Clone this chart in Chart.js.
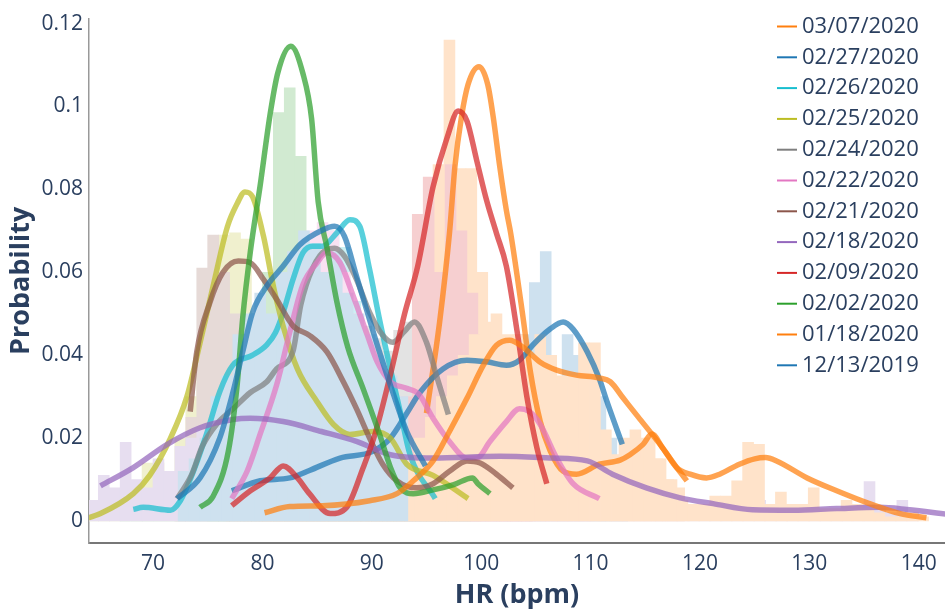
<!DOCTYPE html>
<html>
<head>
<meta charset="utf-8">
<script src="https://cdn.jsdelivr.net/npm/chart.js@4"></script>
<style>
  html, body { margin: 0; padding: 0; background: #fff; }
  canvas { display: block; }
</style>
</head>
<body>
<canvas id="chart" width="945" height="613"></canvas>
<script>
const labels = ["03/07/2020", "02/27/2020", "02/26/2020", "02/25/2020", "02/24/2020", "02/22/2020",
  "02/21/2020", "02/18/2020", "02/09/2020", "02/02/2020", "01/18/2020", "12/13/2019"];
const colors = ["#ff7f0e", "#1f77b4", "#17becf", "#bcbd22", "#7f7f7f", "#e377c2",
  "#8c564b", "#9467bd", "#d62728", "#2ca02c", "#ff7f0e", "#1f77b4"];

// density curves, [HR, probability]
const kde0307 = [[95.0,0.026],[96.2,0.048],[97.1,0.0694],[97.6,0.0855],[98.2,0.0975],[98.8,0.1053],[99.8,0.1096],
  [100.6,0.1053],[101.1,0.0975],[101.7,0.0855],[102.3,0.075],[102.7,0.0694],[103.8,0.0496],[104.5,0.036],[105.4,0.024],
  [106.3,0.017],[107.5,0.012],[108.7,0.0113],[110.8,0.0137],[112.7,0.0147],[113.6,0.016],[114.8,0.0185],[115.6,0.021],
  [116.6,0.0176],[117.9,0.0128],[118.8,0.0097]];
const kde0227 = [[77.2,0.0073],[79.8,0.0097],[82.5,0.0104],[84.3,0.0122],[87.1,0.0152],[90.1,0.0168],[91.7,0.02],
  [93.2,0.026],[94.4,0.031],[96.5,0.0367],[98.7,0.0388],[100.5,0.0384],[102.3,0.0376],[103.5,0.0388],[104.7,0.0424],
  [106.3,0.0463],[107.5,0.048],[108.4,0.0463],[109.7,0.0408],[110.8,0.0343],[111.5,0.0288],[112.9,0.0185]];
const kde0226 = [[68.2,0.0028],[69.1,0.0033],[71.6,0.0026],[72.5,0.0049],[73.7,0.012],[74.9,0.021],[76.1,0.0312],
  [77.3,0.0376],[79.1,0.04],[80.4,0.0425],[81.2,0.0455],[81.9,0.0503],[82.8,0.0583],[83.7,0.0647],[84.6,0.0663],
  [85.5,0.0663],[86.8,0.0695],[88.0,0.0727],[88.9,0.0711],[89.8,0.0607],[90.7,0.0487],[91.7,0.0367],[92.6,0.0264],
  [93.5,0.016],[95.8,0.0054]];
const kde0225 = [[63.5,0.0003],[65.2,0.0018],[68.2,0.0066],[69.7,0.011],[71.6,0.02],[73.1,0.03],[74.3,0.043],
  [75.5,0.0567],[76.8,0.071],[77.7,0.0766],[78.4,0.0794],[79.1,0.0782],[80.1,0.0687],[81.0,0.0567],[81.9,0.047],
  [83.2,0.0367],[85.0,0.0288],[86.5,0.0233],[88.0,0.0209],[90.1,0.0216],[91.7,0.02],[93.2,0.0137],[95.6,0.011],
  [98.8,0.0054]];
const kde0224 = [[72.2,0.0054],[73.5,0.011],[74.5,0.018],[75.8,0.0233],[77.3,0.027],[78.9,0.031],[80.4,0.0336],
  [81.3,0.0367],[82.8,0.041],[83.5,0.052],[84.6,0.061],[85.9,0.0655],[86.6,0.0658],[87.5,0.0639],[88.6,0.0583],
  [89.8,0.0503],[91.0,0.0448],[91.9,0.0431],[93.0,0.0458],[93.9,0.048],[95.0,0.0431],[95.9,0.0352],[97.0,0.0257]];
const kde0222 = [[77.2,0.0054],[78.6,0.012],[79.8,0.021],[81.3,0.0328],[82.5,0.0455],[83.7,0.057],[85.0,0.0623],
  [85.9,0.0647],[87.1,0.0623],[88.3,0.0543],[89.6,0.0448],[90.5,0.0384],[91.7,0.0336],[93.2,0.032],[94.3,0.0306],
  [95.6,0.0248],[97.1,0.0192],[98.7,0.0152],[99.6,0.0152],[100.8,0.0192],[102.3,0.024],[103.5,0.0271],[104.4,0.0264],
  [105.4,0.0233],[106.9,0.0152],[108.4,0.009],[110.8,0.0054]];
const kde0221 = [[73.4,0.0264],[74.0,0.0408],[75.2,0.0527],[76.4,0.06],[77.8,0.0627],[78.9,0.0623],[80.1,0.0583],
  [81.3,0.0535],[82.8,0.0471],[84.3,0.0448],[85.9,0.0408],[87.4,0.0336],[88.6,0.0271],[89.8,0.02],[91.0,0.0137],
  [92.3,0.0097],[94.1,0.008],[95.6,0.009],[97.1,0.012],[98.7,0.0145],[99.9,0.014],[101.4,0.0113],[102.9,0.008]];
const kde0218 = [[65.2,0.0085],[68.2,0.0129],[71.3,0.0185],[74.3,0.0225],[77.3,0.0245],[78.9,0.0248],[81.9,0.024],
  [85.4,0.0216],[88.6,0.0192],[91.7,0.016],[95.6,0.0152],[101.7,0.0156],[106.3,0.0152],[109.7,0.0145],[112.0,0.0113],
  [115.1,0.008],[118.2,0.0056],[121.2,0.0042],[124.8,0.0027],[128.5,0.0026],[132.5,0.003],[136.4,0.0033],
  [138.9,0.0028],[143.0,0.0015]];
const kde0209 = [[77.2,0.0037],[78.9,0.0073],[80.7,0.0104],[81.9,0.0133],[83.2,0.0104],[84.3,0.0066],[86.2,0.0018],
  [87.7,0.0033],[89.2,0.0128],[90.3,0.021],[91.7,0.0353],[93.0,0.05],[94.2,0.0615],[95.6,0.0806],[96.9,0.0926],
  [97.9,0.0989],[98.7,0.0965],[99.6,0.0869],[100.5,0.0773],[101.4,0.0694],[102.3,0.0615],[103.3,0.0455],
  [104.2,0.0296],[105.1,0.0176],[106.0,0.009]];
const kde0202 = [[74.3,0.0033],[75.5,0.006],[76.9,0.017],[77.7,0.033],[78.2,0.049],[78.9,0.065],[79.8,0.081],
  [80.7,0.098],[81.4,0.108],[82.6,0.1145],[83.7,0.108],[84.5,0.097],[85.1,0.077],[85.9,0.066],[86.8,0.053],
  [87.8,0.042],[89.2,0.032],[90.7,0.021],[91.7,0.013],[92.6,0.008],[93.8,0.0066],[95.6,0.0075],[97.5,0.0088],
  [99.2,0.0104],[99.7,0.009],[100.8,0.0066]];
const kde0118 = [[80.2,0.002],[82.5,0.0035],[85.5,0.0037],[89.8,0.0049],[92.3,0.0066],[93.8,0.0097],[95.6,0.0145],
  [97.1,0.0216],[98.7,0.0296],[100.2,0.0376],[101.4,0.0424],[102.6,0.0436],[103.8,0.042],[105.4,0.0383],
  [106.9,0.0364],[108.7,0.0352],[110.8,0.0345],[111.8,0.0336],[113.0,0.0296],[114.2,0.0256],[115.6,0.021],
  [116.6,0.0176],[117.9,0.0128],[119.1,0.0113],[120.6,0.0104],[121.8,0.0113],[123.6,0.0137],[125.0,0.015],
  [126.0,0.0153],[127.0,0.0145],[129.8,0.0104],[132.5,0.0073],[135.5,0.0042],[138.3,0.0018],[140.7,0.0008]];
const kde1213 = [[72.2,0.0054],[74.3,0.0104],[76.1,0.02],[77.3,0.031],[78.2,0.0408],[79.1,0.0503],[80.4,0.0567],
  [81.9,0.0615],[83.4,0.0666],[85.5,0.0702],[86.6,0.0711],[87.5,0.0687],[88.6,0.0591],[89.6,0.0503],[90.7,0.0408],
  [91.9,0.0312],[93.2,0.0216],[94.9,0.0133]];

// histograms: centre of first 1-bpm bin, then bar heights
const hist0307Start = 95.1;
const hist0307 = [0.045,0.086,0.116,0.085,0.085,0.06,0.045,0.03,0.02,0.015,0.01,0.01,0.012,0.01,0.012,0.015,
  0.012,0.015,0.02,0.022,0.02,0.015,0.01,0.008];
const hist0227Start = 76.9;
const hist0227 = [0.004,0.006,0.008,0.01,0.01,0.012,0.01,0.012,0.015,0.012,0.015,0.018,0.015,0.016,0.02,0.022,0.028,
  0.03,0.035,0.04,0.042,0.04,0.038,0.035,0.04,0.036,0.038,0.045,0.0575,0.065,0.033,0.045,0.04,0.035,0.03,0.02,0.015];
const hist0226Start = 67.5;
const hist0226 = [0.002,0.003,0.003,0.002,0.003,0.005,0.012,0.02,0.043,0.04,0.045,0.04,0.038,0.045,0.05,0.055,0.06,
  0.062,0.058,0.07,0.066,0.053,0.044,0.035,0.025,0.015,0.01,0.006,0.003];
const hist0225Start = 64.5;
const hist0225 = [0.002,0.003,0.005,0.006,0.008,0.014,0.014,0.01,0.02,0.03,0.035,0.04,0.069,0.0695,0.068,0.045,0.035,
  0.025,0.02,0.018,0.015,0.015,0.012,0.012,0.01,0.01,0.008,0.006,0.005];
const hist0224Start = 72.5;
const hist0224 = [0.006,0.012,0.018,0.024,0.03,0.028,0.034,0.03,0.038,0.042,0.048,0.058,0.062,0.067,0.064,
  0.06,0.05,0.047,0.044,0.041,0.046,0.048,0.043,0.035,0.025];
const hist0222Start = 77.5;
const hist0222 = [0.005,0.008,0.012,0.018,0.025,0.035,0.05,0.07,0.072,0.07,0.06,0.05,0.035,0.035,0.03,0.03,
  0.03,0.025,0.02,0.015,0.015,0.012,0.015,0.02,0.025,0.03,0.03,0.025,0.02,0.015,0.01,0.008,0.005];
const hist0221Start = 72.5;
const hist0221 = [0.005,0.025,0.061,0.069,0.06,0.05,0.045,0.04,0.04,0.035,0.035,0.04,0.035,0.03,0.03,0.025,
  0.02,0.015,0.01,0.008,0.006,0.008,0.01,0.012,0.012,0.01,0.008,0.005];
const hist0218Start = 64.5;
const hist0218 = [0.005,0.011,0.008,0.019,0.01,0.008,0.015,0.012,0.018,0.02,0.022,0.02,0.02,0.018,0.02,0.018,0.016,
  0.018,0.016,0.018,0.016,0.015,0.012,0.014,0.012,0.012,0.012,0.01,0.012,0.01,0.012,0.012,0.01,0.012,0.012,0.01,
  0.012,0.012,0.01,0.012,0.012,0.01,0.005,0.015,0.02,0.015,0.012,0.01,0.012,0.008,0.006,0.008,0.006,0.004,0.003,
  0.003,0.003,0.002,0.003,0.004,0.005,0.005,0.003,0.002,0.002,0.002,0.002,0.002,0.002,0.004,0.004,0.0095,0.003,
  0.002,0.005,0.002];
const hist0209Start = 77.2;
const hist0209 = [0.005,0.01,0.01,0.012,0.015,0.01,0.005,0.003,0.002,0.003,0.005,0.008,0.012,0.015,0.02,0.02,0.03,
  0.074,0.083,0.06,0.086,0.07,0.055,0.045,0.035,0.025,0.015,0.008];
const hist0202Start = 75.5;
const hist0202 = [0.003,0.01,0.02,0.035,0.05,0.06,0.0985,0.1045,0.088,0.06,0.05,0.035,0.025,0.015,0.01,0.008,0.005,
  0.005,0.006,0.005,0.008,0.006,0.005,0.003];
const hist0118Start = 80.4;
const hist0118 = [0.003,0.004,0.003,0.004,0.005,0.004,0.005,0.006,0.005,0.006,0.008,0.01,0.012,0.015,0.02,0.025,
  0.03,0.035,0.04,0.045,0.048,0.05,0.045,0.045,0.04,0.045,0.04,0.035,0.035,0.043,0.043,0.022,0.016,0.015,0.015,
  0.02,0.015,0.01,0.005,0.004,0.004,0.006,0.006,0.0097,0.019,0.0185,0.004,0.007,0.004,0.004,0.008,0.003,0.003,
  0.005,0.004,0.003,0.002,0.001,0.001,0.002,0.001];
const hist1213Start = 72.8;
const hist1213 = [0.012,0.015,0.02,0.03,0.035,0.045,0.05,0.055,0.05,0.06,0.065,0.07,0.067,0.06,0.065,0.055,
  0.05,0.045,0.04,0.035,0.03];

const curves = [kde0307, kde0227, kde0226, kde0225, kde0224, kde0222, kde0221, kde0218, kde0209, kde0202, kde0118, kde1213];
const hists = [hist0307, hist0227, hist0226, hist0225, hist0224, hist0222, hist0221, hist0218, hist0209, hist0202, hist0118, hist1213];
const histStarts = [hist0307Start, hist0227Start, hist0226Start, hist0225Start, hist0224Start, hist0222Start,
  hist0221Start, hist0218Start, hist0209Start, hist0202Start, hist0118Start, hist1213Start];

const xMin = 64.15, xMax = 142.4;

function rgba(hex, a) {
  const n = parseInt(hex.slice(1), 16);
  return `rgba(${(n >> 16) & 255},${(n >> 8) & 255},${n & 255},${a})`;
}

// solid pale version of a colour (bars cover the ones drawn before them)
function tint(hex, a) {
  const n = parseInt(hex.slice(1), 16);
  const mix = c => Math.round(255 - a * (255 - c));
  return `rgb(${mix((n >> 16) & 255)},${mix((n >> 8) & 255)},${mix(n & 255)})`;
}

const textColor = "#2a3f5f";
const datasets = [];
const scales = {};

// later traces sit on top, like the original figure
curves.forEach((c, i) => {
  datasets.push({
    type: "line",
    label: labels[i],
    data: c.map(p => ({ x: p[0], y: p[1] })),
    borderColor: rgba(colors[i], 0.72),
    borderWidth: 5.5,
    borderCapStyle: "butt",
    borderJoinStyle: "round",
    pointRadius: 0,
    cubicInterpolationMode: "monotone",
    fill: false,
    order: 100 - i
  });
});

// each histogram has its own bin edges, so each gets its own hidden x axis
hists.forEach((h, i) => {
  const axisId = "h" + i;
  scales[axisId] = { type: "linear", display: false, min: xMin, max: xMax, offset: false };
  datasets.push({
    type: "bar",
    label: labels[i] + " hist",
    xAxisID: axisId,
    data: h.map((v, k) => ({ x: histStarts[i] + k, y: v })),
    backgroundColor: tint(colors[i], 0.22),
    borderWidth: 0,
    grouped: false,
    barPercentage: 1,
    categoryPercentage: 1,
    order: 200 - i
  });
});

const sideLegend = {
  id: "sideLegend",
  afterDraw(chart) {
    const ctx = chart.ctx;
    ctx.save();
    ctx.font = "22px 'Open Sans'";
    ctx.textBaseline = "middle";
    ctx.textAlign = "left";
    labels.forEach((label, i) => {
      const y = 26.5 + i * 30.8;
      ctx.strokeStyle = colors[i];
      ctx.lineWidth = 2;
      ctx.beginPath();
      ctx.moveTo(777, y);
      ctx.lineTo(797, y);
      ctx.stroke();
      ctx.fillStyle = textColor;
      ctx.fillText(label, 802, y);
    });
    ctx.restore();
  }
};

scales.x = {
  type: "linear",
  min: xMin,
  max: xMax,
  offset: false,
  grid: { display: false, drawTicks: false },
  border: { display: true, color: "#777", width: 2 },
  ticks: { stepSize: 10, includeBounds: false, padding: 8, color: textColor,
    font: { family: "Open Sans", size: 21 } },
  title: { display: true, text: "HR (bpm)", color: textColor, padding: { top: 0, bottom: 4 },
    font: { family: "Open Sans", size: 27, weight: "bold", lineHeight: 1 } },
  afterFit: s => { s.height = 70; }
};
scales.y = {
  min: -0.0053,
  max: 0.1212,
  grid: { display: false, drawTicks: false },
  border: { display: true, color: "#999", width: 1.5 },
  ticks: { stepSize: 0.02, includeBounds: false, padding: 6, color: textColor,
    font: { family: "Open Sans", size: 21 },
    callback: v => String(Number(v.toFixed(2))) },
  title: { display: true, text: "Probability", color: textColor, padding: { top: 8, bottom: 0 },
    font: { family: "Open Sans", size: 27, weight: "bold", lineHeight: 1 } },
  afterFit: s => { s.width = 89; }
};

new Chart(document.getElementById("chart"), {
  type: "bar",
  data: { datasets },
  plugins: [sideLegend],
  options: {
    responsive: false,
    animation: false,
    layout: { padding: { top: 13, right: 0, left: 0, bottom: 0 } },
    plugins: { legend: { display: false }, tooltip: { enabled: false } },
    scales
  }
});
</script>
</body>
</html>
